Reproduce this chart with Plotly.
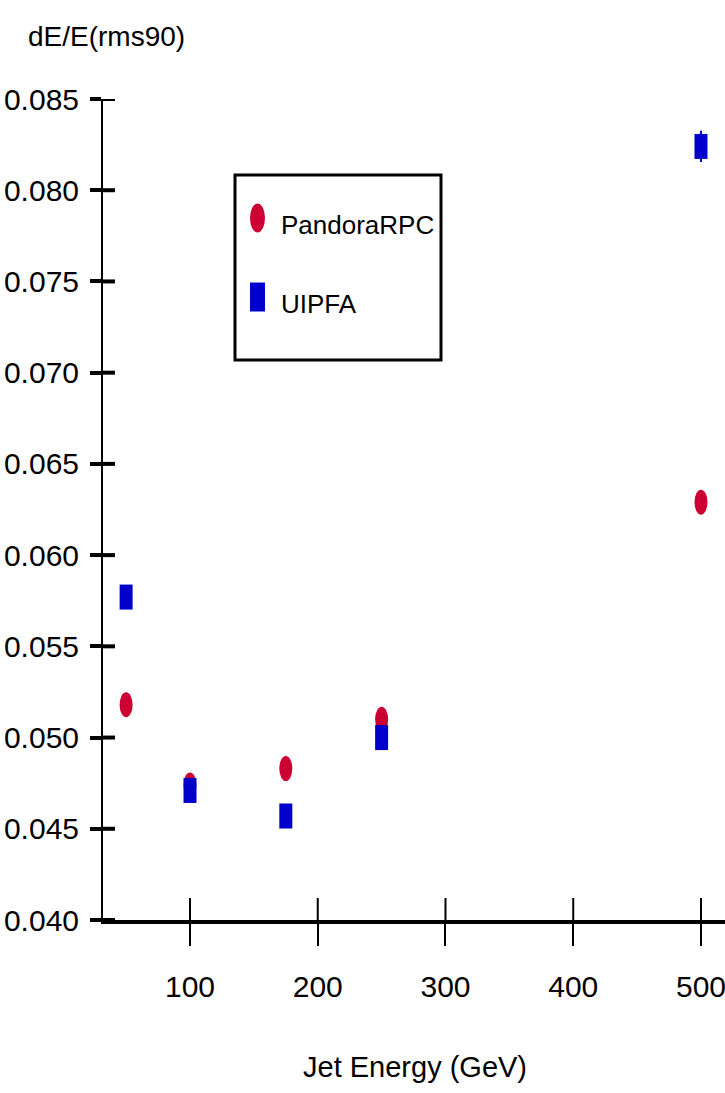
import plotly.graph_objects as go

# Jet energy resolution vs. jet energy for two particle-flow algorithms
energies = [50, 100, 175, 250, 500]
pandora_rpc = [0.0518, 0.0474, 0.0483, 0.0510, 0.0629]
uipfa = [0.0577, 0.0471, 0.0457, 0.0500, 0.0824]
uipfa_err = [0.0, 0.0, 0.0, 0.0, 0.0008]

series_names = ["PandoraRPC", "UIPFA"]
x_tick_vals = [100, 200, 300, 400, 500]
y_tick_vals = [0.040, 0.045, 0.050, 0.055, 0.060, 0.065, 0.070, 0.075, 0.080, 0.085]

RED = "#cc0033"
BLUE = "#0000cc"
FONT = "Liberation Sans, Arial, sans-serif"

W, H = 725, 1093
L, R, T, B = 103, 0, 99, 173
X_RANGE = [31.9, 518.8]
Y_RANGE = [0.040, 0.085]

MW, MH = 13, 25  # marker footprint in pixels (tall ellipse / tall block)

fig = go.Figure()

# Data traces (carry hover + error bars); visible marks are pixel-sized shapes below
fig.add_trace(go.Scatter(
    x=energies, y=pandora_rpc, mode="markers", name=series_names[0],
    marker=dict(size=MW, color=RED, opacity=0), showlegend=False,
))
fig.add_trace(go.Scatter(
    x=energies, y=uipfa, mode="markers", name=series_names[1],
    marker=dict(size=MW, color=BLUE, opacity=0), showlegend=False,
    error_y=dict(type="data", array=uipfa_err, color=BLUE, thickness=2, width=1),
))

shapes = []
for xv, yv in zip(energies, pandora_rpc):
    shapes.append(dict(
        type="circle", xref="x", yref="y",
        xsizemode="pixel", ysizemode="pixel", xanchor=xv, yanchor=yv,
        x0=-MW / 2, x1=MW / 2, y0=-MH / 2, y1=MH / 2,
        fillcolor=RED, line=dict(width=0), layer="above",
    ))
for xv, yv in zip(energies, uipfa):
    shapes.append(dict(
        type="rect", xref="x", yref="y",
        xsizemode="pixel", ysizemode="pixel", xanchor=xv, yanchor=yv,
        x0=-MW / 2, x1=MW / 2, y0=-MH / 2, y1=MH / 2,
        fillcolor=BLUE, line=dict(width=0), layer="above",
    ))

# Inner halves of the tick marks, so each tick crosses its axis line
for v in y_tick_vals:
    shapes.append(dict(
        type="line", xref="paper", yref="y", xsizemode="pixel", xanchor=0,
        x0=0, x1=12, y0=v, y1=v, line=dict(color="black", width=4), layer="above",
    ))
for v in x_tick_vals:
    shapes.append(dict(
        type="line", xref="x", yref="paper", ysizemode="pixel", yanchor=0,
        x0=v, x1=v, y0=0, y1=22, line=dict(color="black", width=2), layer="above",
    ))

# Legend box with its own symbols
pw, ph = W - L - R, H - T - B
def px(x):
    return (x - L) / pw
def py(y):
    return (H - B - y) / ph

shapes.append(dict(
    type="rect", xref="paper", yref="paper",
    x0=px(235), x1=px(441), y0=py(360), y1=py(175),
    line=dict(color="black", width=3), fillcolor="rgba(0,0,0,0)", layer="above",
))
legend_rows = [(series_names[0], "circle", RED, 218), (series_names[1], "rect", BLUE, 297)]
annotations = []
for name, kind, color, yc in legend_rows:
    shapes.append(dict(
        type=kind, xref="paper", yref="paper",
        xsizemode="pixel", ysizemode="pixel", xanchor=px(257.5), yanchor=py(yc),
        x0=-7.5, x1=7.5, y0=-14.5, y1=14.5,
        fillcolor=color, line=dict(width=0), layer="above",
    ))
    annotations.append(dict(
        text=name, xref="paper", yref="paper", x=px(279), y=py(yc + 7),
        xanchor="left", yanchor="middle", showarrow=False,
        font=dict(family=FONT, size=26, color="black"),
    ))

# Axis titles
annotations.append(dict(
    text="dE/E(rms90)", xref="paper", yref="paper", x=px(26), y=py(36),
    xanchor="left", yanchor="middle", showarrow=False,
    font=dict(family=FONT, size=28, color="black"),
))
annotations.append(dict(
    text="Jet Energy (GeV)", xref="paper", yref="paper", x=px(415), y=py(1067),
    xanchor="center", yanchor="middle", showarrow=False,
    font=dict(family=FONT, size=29, color="black"),
))

fig.update_layout(
    width=W, height=H,
    margin=dict(l=L, r=R, t=T, b=B, pad=0, autoexpand=False),
    paper_bgcolor="white", plot_bgcolor="white",
    font=dict(family=FONT, size=30, color="black"),
    showlegend=False,
    shapes=shapes, annotations=annotations,
    xaxis=dict(
        range=X_RANGE, tickvals=x_tick_vals, ticktext=[str(v) for v in x_tick_vals],
        showgrid=False, zeroline=False, automargin=False,
        showline=True, linecolor="black", linewidth=4,
        ticks="outside", ticklen=22, tickwidth=2, tickcolor="black",
        ticklabelstandoff=15, ticklabeloverflow="allow",
        tickfont=dict(family=FONT, size=30),
    ),
    yaxis=dict(
        range=Y_RANGE, tickvals=y_tick_vals, tickformat=".3f",
        showgrid=False, zeroline=False, automargin=False,
        showline=True, linecolor="black", linewidth=2,
        ticks="outside", ticklen=11, tickwidth=4, tickcolor="black",
        ticklabelstandoff=5, ticklabeloverflow="allow",
        tickfont=dict(family=FONT, size=30),
    ),
)

fig.write_html("out.html", config={"displayModeBar": False})
